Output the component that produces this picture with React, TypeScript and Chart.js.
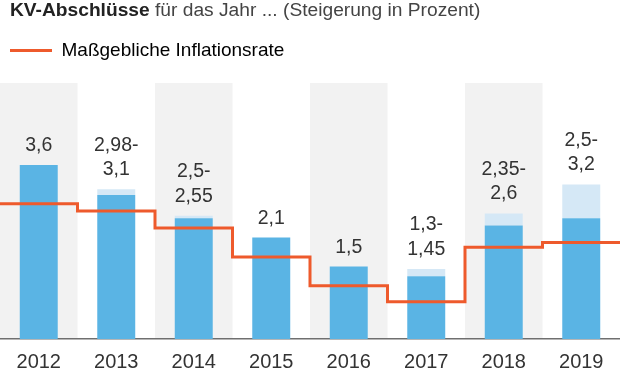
import React, { useEffect, useRef } from 'react';
import { Chart, registerables } from 'chart.js';

Chart.register(...registerables);

const years = ['2012', '2013', '2014', '2015', '2016', '2017', '2018', '2019'];
const lowValues = [3.6, 2.98, 2.5, 2.1, 1.5, 1.3, 2.35, 2.5];
const highValues = [3.6, 3.1, 2.55, 2.1, 1.5, 1.45, 2.6, 3.2];
const inflation = [2.8, 2.65, 2.3, 1.7, 1.1, 0.77, 1.9, 2.0];
const legendLabel = 'Maßgebliche Inflationsrate';
const titleBold = 'KV-Abschlüsse';
const titleRest = ' für das Jahr ... (Steigerung in Prozent)';

const FONT = '"Liberation Sans", Arial, Helvetica, sans-serif';
const ORANGE = '#ee5a2c';
const BLUE = '#5ab4e4';
const LIGHT_BLUE = '#d5e8f6';
const BAND = '#f2f2f2';
const TEXT = '#333333';

const fmt = (v: number) => String(v).replace('.', ',');

export default function App() {
  const canvasRef = useRef<HTMLCanvasElement | null>(null);

  useEffect(() => {
    document.body.style.margin = '0';
    const canvas = canvasRef.current;
    if (!canvas) return;

    const stepPoints: { x: number; y: number }[] = [];
    inflation.forEach((v, i) => {
      stepPoints.push({ x: i - 0.5, y: v });
      stepPoints.push({ x: i + 0.5, y: v });
    });

    const bandsPlugin = {
      id: 'bands',
      beforeDraw(chart: any) {
        const { ctx, chartArea, scales } = chart;
        const x = scales.x;
        const w = (chartArea.right - chartArea.left) / years.length;
        ctx.save();
        ctx.fillStyle = BAND;
        years.forEach((_, i) => {
          if (i % 2 === 0) {
            const cx = x.getPixelForValue(i);
            ctx.fillRect(cx - w / 2, chartArea.top, w, chartArea.bottom - chartArea.top);
          }
        });
        ctx.restore();
      },
    };

    const legendSpacer = {
      id: 'legendSpacer',
      beforeInit(chart: any) {
        const legend = chart.legend;
        if (!legend) return;
        const origFit = legend.fit;
        legend.fit = function () {
          origFit.call(this);
          this.height += 13;
        };
      },
    };

    const valueLabels = {
      id: 'valueLabels',
      afterDatasetsDraw(chart: any) {
        const { ctx, scales } = chart;
        const meta = chart.getDatasetMeta(1);
        ctx.save();
        ctx.fillStyle = TEXT;
        ctx.font = `19.5px ${FONT}`;
        ctx.textAlign = 'center';
        ctx.textBaseline = 'alphabetic';
        years.forEach((_, i) => {
          const lo = lowValues[i];
          const hi = highValues[i];
          const top = scales.y.getPixelForValue(hi);
          const cx = meta.data[i].x;
          const lines = lo === hi ? [fmt(lo)] : [fmt(lo) + '-', fmt(hi)];
          const baseY = top - 14;
          lines.forEach((t, k) => {
            const y = baseY - (lines.length - 1 - k) * 24.5;
            ctx.fillText(t, cx, y);
          });
        });
        ctx.restore();
      },
    };

    const chart = new Chart(canvas, {
      type: 'bar',
      data: {
        labels: years,
        datasets: [
          {
            type: 'line',
            label: legendLabel,
            data: stepPoints as any,
            xAxisID: 'xl',
            borderColor: ORANGE,
            backgroundColor: ORANGE,
            borderWidth: 3,
            pointRadius: 0,
            pointHoverRadius: 0,
            fill: false,
            order: 0,
            stack: 'infl',
            borderJoinStyle: 'miter',
          } as any,
          {
            type: 'bar',
            label: 'min',
            data: lowValues,
            backgroundColor: BLUE,
            stack: 'kv',
            order: 1,
            grouped: false,
            categoryPercentage: 1,
            barPercentage: 0.49,
          } as any,
          {
            type: 'bar',
            label: 'range',
            data: highValues.map((h, i) => +(h - lowValues[i]).toFixed(2)),
            backgroundColor: LIGHT_BLUE,
            stack: 'kv',
            order: 1,
            grouped: false,
            categoryPercentage: 1,
            barPercentage: 0.49,
          } as any,
        ],
      },
      options: {
        responsive: false,
        animation: false,
        events: [],
        layout: { autoPadding: false, padding: { top: 31, bottom: -14, left: 0, right: 0 } },
        scales: {
          x: {
            type: 'category',
            stacked: true,
            offset: true,
            grid: { display: false, drawTicks: false },
            border: { display: true, color: '#6f6f6f', width: 1.5 },
            ticks: {
              color: TEXT,
              padding: 13,
              maxRotation: 0,
              autoSkip: false,
              font: { family: FONT, size: 20, lineHeight: 1 },
            },
          },
          xl: {
            type: 'linear',
            display: false,
            offset: false,
            bounds: 'ticks',
            min: -0.5,
            max: 7.5,
          },
          y: {
            stacked: true,
            display: false,
            min: 0,
            max: 5.3,
          },
        },
        plugins: {
          legend: {
            display: true,
            position: 'top',
            align: 'start',
            labels: {
              boxWidth: 42,
              boxHeight: 3,
              padding: 10,
              color: '#444444',
              font: { family: FONT, size: 19 },
              generateLabels: () => [
                {
                  text: legendLabel,
                  fillStyle: ORANGE,
                  strokeStyle: ORANGE,
                  lineWidth: 0,
                  hidden: false,
                  datasetIndex: 0,
                } as any,
              ],
            },
          },
          tooltip: { enabled: false },
          title: { display: false },
        },
      },
      plugins: [bandsPlugin, legendSpacer, valueLabels],
    });

    return () => chart.destroy();
  }, []);

  return (
    <div style={{ position: 'relative', width: 620, height: 371, overflow: 'hidden', background: '#fff' }}>
      <div
        style={{
          position: 'absolute',
          left: 10,
          top: -1,
          fontFamily: FONT,
          fontSize: 19.2,
          lineHeight: '22px',
          color: '#444',
          whiteSpace: 'nowrap',
        }}
      >
        <b style={{ color: '#222' }}>{titleBold}</b>
        {titleRest}
      </div>
      <canvas ref={canvasRef} width={620} height={371} style={{ display: 'block', width: 620, height: 371 }} />
    </div>
  );
}
